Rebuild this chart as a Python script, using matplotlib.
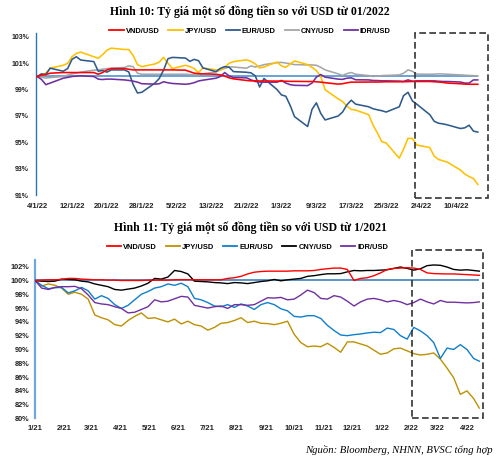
import matplotlib
matplotlib.use('Agg')
import matplotlib.pyplot as plt
import matplotlib.dates as mdates
from matplotlib.patches import Rectangle
from matplotlib.lines import Line2D
import pandas as pd
from datetime import datetime

# ---------------- Data: Hình 10 (business days 4/1/2022 - 15/4/2022) ----------------
top_start, top_end = '2022-01-04', '2022-04-15'
top_vnd = [100.0, 100.1, 100.15, 100.25,
           100.3, 100.3, 100.3, 100.3, 100.3,
           100.3, 100.17, 100.3, 100.5, 100.6,
           100.6, 100.55, 100.5, 100.5, 100.5,
           100.5, 100.5, 100.5, 100.5, 100.5,
           100.48, 100.37, 100.25, 100.22, 100.2,
           100.17, 100.12, 100.03, 99.9, 99.82,
           99.7, 99.67, 99.67, 99.66, 99.66,
           99.65, 99.65, 99.64, 99.63, 99.63,
           99.62, 99.62, 99.6, 99.57, 99.53,
           99.42, 99.45, 99.52, 99.57, 99.57,
           99.58, 99.58, 99.58, 99.59, 99.6,
           99.6, 99.6, 99.61, 99.62, 99.62,
           99.62, 99.6, 99.58, 99.55, 99.5,
           99.45, 99.42, 99.41, 99.41, 99.41]
top_jpy = [100.0, 100.1, 100.25, 100.63,
           100.85, 101.0, 101.5, 101.75, 101.85,
           101.5, 101.38, 101.65, 102.0, 102.15,
           102.05, 102.05, 101.6, 100.9, 100.75,
           100.95, 101.1, 101.45, 101.0, 100.6,
           100.85, 100.75, 100.6, 100.3, 100.65,
           100.5, 100.47, 100.7, 101.0, 101.13,
           101.26, 101.15, 100.95, 100.65, 100.72,
           101.1, 100.8, 100.7, 100.95, 101.18,
           100.9, 100.7, 100.45, 100.0, 99.0,
           98.3, 98.1, 97.75, 97.5, 97.45,
           97.1, 96.3, 95.7, 95.05, 94.95,
           93.8, 94.5, 95.3, 95.3, 94.8,
           94.6, 93.95, 93.7, 93.6, 93.5,
           92.9, 92.6, 92.4, 92.25, 91.8]
top_eur = [100.0, 100.2, 100.15, 100.63,
           100.4, 100.6, 101.3, 101.5, 101.25,
           101.13, 100.4, 100.45, 100.33, 100.5,
           100.5, 100.35, 99.4, 98.75, 98.8,
           99.5, 99.85, 100.5, 101.35, 101.45,
           101.4, 101.15, 101.3, 101.2, 100.65,
           100.37, 100.62, 100.75, 100.7, 100.37,
           100.32, 100.28, 100.05, 99.2, 99.85,
           99.0, 98.6, 98.5, 97.8, 96.95,
           96.2, 97.5, 98.0, 97.2, 96.7,
           97.0, 97.3, 97.85, 98.2, 97.9,
           97.7, 97.55, 97.47, 97.4, 97.3,
           97.7, 98.55, 98.8, 98.15, 97.9,
           97.1, 96.6, 96.45, 96.4, 96.33,
           96.05, 96.1, 96.3, 95.85, 95.78]
top_cny = [100.0, 99.95, 99.88, 99.92,
           100.0, 100.1, 100.2, 100.25, 100.33,
           100.48, 100.5, 100.55, 100.6, 100.63,
           100.68, 100.8, 100.75, 100.25, 100.17,
           100.17, 100.17, 100.17, 100.17, 100.17,
           100.17, 100.15, 100.12, 100.12, 100.2,
           100.35, 100.5, 100.62, 100.73, 100.72,
           100.63, 100.8, 100.72, 100.8, 100.9,
           101.05, 101.07, 101.02, 100.97, 100.9,
           100.88, 100.88, 100.85, 100.7, 100.5,
           100.2, 100.08, 100.22, 100.3, 100.17,
           100.07, 100.0, 100.03, 100.07, 100.08,
           100.12, 100.25, 100.5, 100.4, 100.18,
           100.17, 100.18, 100.2, 100.19, 100.17,
           100.12, 100.1, 100.08, 100.06, 100.05]
top_idr = [100.0, 99.78, 99.38, 99.5,
           99.87, 99.93, 100.0, 100.03, 100.05,
           100.0, 99.8, 99.77, 99.8, 99.8,
           99.74, 99.7, 99.65, 99.57, 99.45,
           99.42, 99.45, 99.6, 99.52, 99.47,
           99.41, 99.45, 99.53, 99.66, 99.72,
           99.87, 100.0, 100.3, 100.05, 99.92,
           99.9, 99.75, 99.62, 99.58, 99.57,
           99.57, 99.7, 99.5, 99.38, 99.33,
           99.31, 99.5, 99.95, 100.15, 99.95,
           99.8, 99.78, 99.87, 99.9, 99.75,
           99.74, 99.7, 99.69, 99.67, 99.67,
           99.65, 99.63, 99.74, 99.64, 99.67,
           99.67, 99.67, 99.64, 99.62, 99.62,
           99.58, 99.5, 99.5, 99.74, 99.74]
top_xticks = ['4/1/22', '12/1/22', '20/1/22', '28/1/22', '5/2/22', '13/2/22', '21/2/22',
              '1/3/22', '9/3/22', '17/3/22', '25/3/22', '2/4/22', '10/4/22']
top_yticks = [91, 93, 95, 97, 99, 101, 103]

# ---------------- Data: Hình 11 (weekly 1/1/2021 - 14/4/2022) ----------------
bot_start, bot_weeks, bot_last = '2021-01-01', 67, '2022-04-14'
bot_vnd = [100.0, 100.05, 100.1, 100.1, 100.15, 100.3, 100.3, 100.2, 100.15, 100.1,
           100.1, 100.05, 100.05, 100.0, 100.0, 100.0, 100.0, 100.05, 100.05, 100.05,
           100.05, 100.1, 100.12, 100.12, 100.1, 100.1, 100.1, 100.1, 100.1, 100.3,
           100.4, 100.6, 100.95, 101.2, 101.3, 101.35, 101.35, 101.35, 101.35, 101.4,
           101.4, 101.4, 101.45, 101.6, 101.7, 101.8, 101.8, 101.6, 100.0, 100.3,
           100.4, 100.7, 101.1, 101.6, 101.75, 101.8, 101.85, 101.8, 101.6, 101.1,
           101.0, 100.97, 100.95, 100.95, 100.9, 100.85, 100.8, 100.75]
bot_jpy = [100.0, 99.2, 99.5, 99.3, 98.9, 98.0, 98.3, 98.0, 97.3, 95.0,
           94.6, 94.3, 93.6, 93.4, 94.2, 94.8, 95.3, 94.5, 94.6, 94.3,
           94.0, 94.4, 93.7, 94.1, 93.6, 93.4, 92.8, 93.2, 93.8, 93.9,
           94.2, 94.6, 93.9, 94.1, 93.8, 93.75, 93.6, 93.8, 94.1, 92.2,
           91.0, 90.4, 90.5, 90.4, 90.9, 90.3, 89.6, 91.1, 91.1, 90.8,
           90.5, 89.9, 89.3, 89.5, 90.1, 90.2, 89.8, 89.4, 89.2, 89.3,
           89.5, 88.6, 87.3, 85.9, 83.5, 84.0, 82.9, 81.5]
bot_eur = [100.0, 99.3, 98.8, 98.95, 99.0, 98.2, 98.5, 99.0, 98.5, 97.3,
           97.8, 97.4, 96.5, 95.95, 96.4, 97.2, 98.0, 98.4, 98.9, 99.1,
           99.5, 99.3, 99.6, 99.1, 97.4, 97.2, 96.8, 96.3, 96.2, 96.5,
           96.1, 96.6, 96.3, 95.8, 96.5, 96.8, 96.5, 95.9, 95.6, 94.8,
           94.7, 94.9, 94.9, 94.5, 93.5, 92.75, 92.1, 92.0, 92.15, 92.25,
           92.4, 92.5, 92.45, 93.1, 92.9, 92.0, 91.5, 93.2, 92.7, 92.0,
           91.0, 88.7, 90.2, 90.0, 90.7, 90.0, 88.7, 88.3]
bot_cny = [100.0, 99.9, 99.85, 99.9, 100.2, 100.15, 100.1, 99.9, 99.8, 99.5,
           99.3, 99.1, 98.7, 98.6, 98.75, 98.9, 99.2, 99.6, 100.3, 100.2,
           100.5, 101.45, 101.3, 100.95, 99.9, 99.85, 99.8, 99.7, 99.65, 99.55,
           99.7, 99.65, 99.55, 99.7, 99.85, 99.95, 100.15, 99.95, 100.1, 100.2,
           100.3, 100.6, 100.7, 100.85, 100.97, 100.97, 101.0, 101.25, 101.45, 101.4,
           101.45, 101.45, 101.5, 101.55, 101.75, 101.95, 101.75, 101.5, 101.7, 102.15,
           102.25, 102.2, 101.95, 101.6, 101.5, 101.55, 101.45, 101.35]
bot_idr = [100.0, 98.9, 98.7, 99.0, 99.1, 99.1, 99.15, 98.8, 97.9, 96.8,
           96.6, 96.5, 96.2, 95.95, 95.3, 95.4, 95.8, 96.2, 97.2, 96.9,
           97.0, 97.35, 97.7, 97.6, 96.4, 96.2, 96.0, 96.2, 96.3, 95.95,
           96.5, 96.5, 96.4, 96.5, 97.0, 97.5, 97.45, 97.55, 97.2, 97.3,
           97.9, 98.6, 98.25, 97.4, 97.3, 97.8, 97.6, 97.0, 96.3, 96.9,
           97.3, 97.4, 97.2, 96.9, 97.1, 96.9, 96.5, 96.8, 97.3, 96.9,
           96.6, 97.1, 96.85, 96.85, 96.8, 96.75, 96.8, 96.9]
bot_xticks = ['1/21', '2/21', '3/21', '4/21', '5/21', '6/21', '7/21', '8/21', '9/21',
              '10/21', '11/21', '12/21', '1/22', '2/22', '3/22', '4/22']
bot_yticks = [80, 82, 84, 86, 88, 90, 92, 94, 96, 98, 100, 102]

labels = ['VND/USD', 'JPY/USD', 'EUR/USD', 'CNY/USD', 'IDR/USD']

# ---------------- Figure ----------------
SANS = 'Liberation Sans'
SERIF = 'Liberation Serif'
fig = plt.figure(figsize=(5.0, 4.62), dpi=100)

top_dates = pd.bdate_range(top_start, top_end)
bot_dates = list(pd.date_range(bot_start, periods=bot_weeks, freq='7D')) + [pd.Timestamp(bot_last)]

# ---- Top chart ----
ax1 = fig.add_axes([0.072, 0.5779, 0.904, 0.3506])
top_colors = ['#FF0000', '#FFC000', '#2F5B8C', '#A6A6A6', '#7030A0']
ax1.hlines(100, top_dates[0], top_dates[-1], color='#5B9BD5', lw=1.3, zorder=2)
for vals, c, z in zip([top_vnd, top_jpy, top_eur, top_cny, top_idr], top_colors, [4, 3, 3, 2.5, 3]):
    ax1.plot(top_dates, vals, color=c, lw=1.15, zorder=z)
ax1.set_ylim(91, 103.3)
ax1.set_xlim(pd.Timestamp(top_start) - pd.Timedelta(hours=6), pd.Timestamp('2022-04-17 08:00'))
ax1.set_yticks(top_yticks)
ax1.set_yticklabels([f'{v}%' for v in top_yticks])
ax1.set_xticks([mdates.date2num(datetime.strptime(s, '%d/%m/%y')) for s in top_xticks])
ax1.set_xticklabels(top_xticks)
for s in ['top', 'right', 'bottom']:
    ax1.spines[s].set_visible(False)
ax1.spines['left'].set_color('#2E75B6')
ax1.spines['left'].set_linewidth(1.0)
ax1.tick_params(axis='y', length=0, pad=5, labelsize=5.0, labelcolor='#222222')
ax1.tick_params(axis='x', length=0, pad=6, labelsize=5.5, labelcolor='#222222')
for t in ax1.get_xticklabels() + ax1.get_yticklabels():
    t.set_fontfamily(SANS)
    t.set_fontweight('bold')
ax1.add_patch(Rectangle((mdates.date2num(datetime(2022, 3, 31, 16)), 90.77),
                        mdates.date2num(datetime(2022, 4, 17, 8)) - mdates.date2num(datetime(2022, 3, 31, 16)),
                        103.3 - 90.77, fill=False, ls=(0, (4, 2)), lw=1.2, ec='#333333',
                        clip_on=False, zorder=6))

# ---- Bottom chart ----
ax2 = fig.add_axes([0.07, 0.0942, 0.90, 0.342])
bot_colors = ['#FF0000', '#BF9000', '#0F7FCB', '#000000', '#7030A0']
ax2.hlines(100, bot_dates[0], bot_dates[-1], color='#2E75B6', lw=1.1, zorder=2)
for vals, c, z in zip([bot_vnd, bot_jpy, bot_eur, bot_cny, bot_idr], bot_colors, [4, 3, 3, 3.5, 3]):
    ax2.plot(bot_dates, vals, color=c, lw=1.0, zorder=z)
ax2.set_ylim(80, 102.9)
ax2.set_xlim(pd.Timestamp(bot_start), pd.Timestamp('2022-04-20'))
ax2.set_yticks(bot_yticks)
ax2.set_yticklabels([f'{v}%' for v in bot_yticks])
ax2.set_xticks([mdates.date2num(datetime.strptime(s, '%m/%y')) for s in bot_xticks])
ax2.set_xticklabels(bot_xticks)
for s in ['top', 'right', 'bottom']:
    ax2.spines[s].set_visible(False)
ax2.spines['left'].set_color('#6FA8DC')
ax2.spines['left'].set_linewidth(1.6)
ax2.tick_params(axis='y', length=0, pad=4, labelsize=5.3, labelcolor='#222222')
ax2.tick_params(axis='x', length=0, pad=5, labelsize=5.5, labelcolor='#222222')
for t in ax2.get_xticklabels() + ax2.get_yticklabels():
    t.set_fontfamily(SANS)
    t.set_fontweight('bold')
ax2.add_patch(Rectangle((mdates.date2num(datetime(2022, 2, 1, 14)), 80.0),
                        mdates.date2num(datetime(2022, 4, 18)) - mdates.date2num(datetime(2022, 2, 1, 14)),
                        104.35 - 80.0, fill=False, ls=(0, (4, 2)), lw=1.2, ec='#333333',
                        clip_on=False, zorder=6))

# ---- Titles ----
fig.text(0.5, 1 - 12 / 462, 'Hình 10: Tỷ giá một số đồng tiền so với USD từ 01/2022',
         ha='center', va='center', fontsize=8.5, fontweight='bold', family=SERIF)
fig.text(0.5, 1 - 228 / 462, 'Hình 11: Tỷ giá một số đồng tiền so với USD từ 1/2021',
         ha='center', va='center', fontsize=8.5, fontweight='bold', family=SERIF)

# ---- Legends ----
def make_legend(colors, y, x):
    handles = [Line2D([], [], color=c, lw=1.3) for c in colors]
    leg = fig.legend(handles, labels, loc='center', bbox_to_anchor=(x, y), ncol=5,
                     frameon=False, handlelength=1.9, handletextpad=0.25, columnspacing=1.2,
                     prop={'family': SANS, 'weight': 'bold', 'size': 5.4}, borderaxespad=0)
    return leg

make_legend(top_colors, 1 - 31 / 462, 0.5)
make_legend(bot_colors, 1 - 247 / 462, 0.495)

# ---- Source ----
fig.text(0.986, 1 - 450 / 462, 'Nguồn: Bloomberg, NHNN, BVSC tổng hợp', ha='right', va='center',
         fontsize=7.7, style='italic', family=SERIF)

fig.savefig('out.png', dpi=100)
